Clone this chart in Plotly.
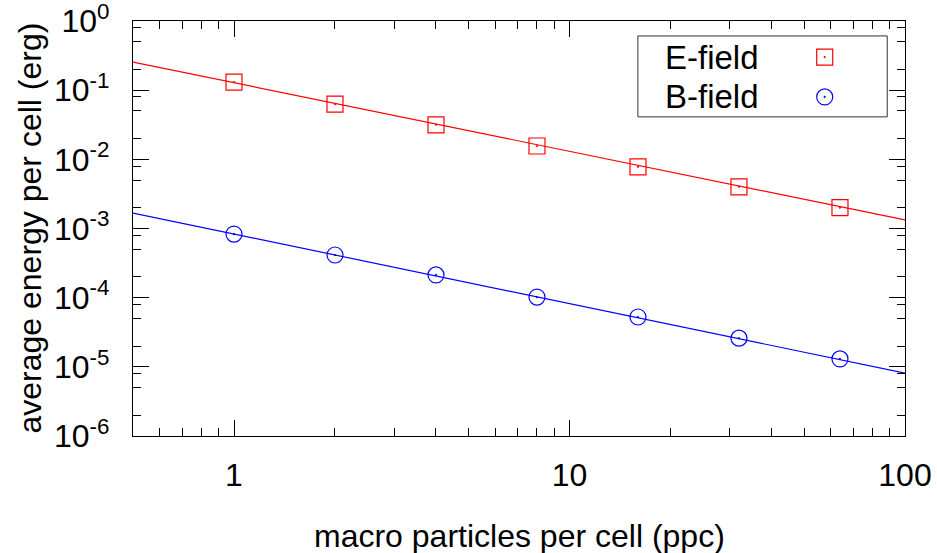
import plotly.graph_objects as go

# ---- data ----
ppc = [1, 2, 4, 8, 16, 32, 64]
e_field = [0.131, 0.063, 0.0315, 0.0156, 0.0078, 0.0040, 0.0020]
b_field = [8.3e-4, 4.14e-4, 2.13e-4, 1.02e-4, 5.25e-5, 2.6e-5, 1.3e-5]

fit_x = [0.5, 100]
e_fit = [0.255, 0.00133]
b_fit = [1.67e-3, 8.1e-6]

x_tickvals = [1, 10, 100]
x_ticktext = ["1", "10", "100"]
y_exps = [-6, -5, -4, -3, -2, -1, 0]
x_minor = [0.6, 0.7, 0.8, 0.9] + [m * d for d in (1, 10) for m in range(2, 10)]
y_minor = [m * 10.0 ** e for e in range(-6, 0) for m in (2, 5, 8)]

FONT = "Liberation Sans, Arial, Helvetica, sans-serif"
FS = 32
RED = "#ff0000"
BLUE = "#0000ff"

fig = go.Figure()

fig.add_trace(go.Scatter(x=fit_x, y=e_fit, mode="lines",
                         line=dict(color=RED, width=1.2), showlegend=False))
fig.add_trace(go.Scatter(x=fit_x, y=b_fit, mode="lines",
                         line=dict(color=BLUE, width=1.2), showlegend=False))
fig.add_trace(go.Scatter(x=ppc, y=e_field, mode="markers",
                         marker=dict(symbol="square-open-dot", size=16, color=RED,
                                     line=dict(color=RED, width=1.2)),
                         showlegend=False))
fig.add_trace(go.Scatter(x=ppc, y=b_field, mode="markers",
                         marker=dict(symbol="circle-open-dot", size=16, color=BLUE,
                                     line=dict(color=BLUE, width=1.2)),
                         showlegend=False))

# manual gnuplot-style legend (symbol to the right of the text)
legend_labels = ["E-field", "B-field"]
legend_y = [0.913, 0.817]
legend_sym = ["square-open-dot", "circle-open-dot"]
legend_col = [RED, BLUE]
for lab, ly, sym, col in zip(legend_labels, legend_y, legend_sym, legend_col):
    fig.add_trace(go.Scatter(x=[0.896], y=[ly], xaxis="x2", yaxis="y2", mode="markers",
                             marker=dict(symbol=sym, size=16, color=col,
                                         line=dict(color=col, width=1.2)),
                             showlegend=False, cliponaxis=False))
    fig.add_annotation(xref="paper", yref="paper", x=0.6865, y=ly, text=lab,
                       showarrow=False, xanchor="left", yanchor="middle",
                       font=dict(family=FONT, size=33, color="black"))
fig.add_shape(type="rect", xref="paper", yref="paper", x0=0.654, x1=0.977,
              y0=0.769, y1=0.964, line=dict(color="#333333", width=1),
              fillcolor="white", layer="below")

axis_common = dict(
    showline=True, linecolor="black", linewidth=1.2, mirror="ticks",
    ticks="inside", ticklen=16, tickwidth=1, tickcolor="black",
    showgrid=False, zeroline=False, automargin=False,
    ticklabeloverflow="allow",
    tickfont=dict(family=FONT, size=FS, color="black"),
)

fig.update_layout(
    width=937, height=553,
    margin=dict(l=133, r=32, t=21, b=117, autoexpand=False),
    paper_bgcolor="white", plot_bgcolor="white",
    font=dict(family=FONT, size=FS, color="black"),
    xaxis=dict(type="log", range=[-0.30103, 2],
               tickmode="array", tickvals=x_tickvals, ticktext=x_ticktext,
               ticklabelstandoff=10,
               minor=dict(tickmode="array", tickvals=x_minor, ticks="inside",
                          ticklen=8, tickwidth=1, tickcolor="black"),
               **axis_common),
    yaxis=dict(type="log", range=[-6, 0],
               tickmode="array", tickvals=[10.0 ** e for e in y_exps],
               ticktext=["10<sup>%d</sup>" % e for e in y_exps],
               ticklabelstandoff=16,
               minor=dict(tickmode="array", tickvals=y_minor, ticks="inside",
                          ticklen=8, tickwidth=1, tickcolor="black"),
               **axis_common),
    xaxis2=dict(overlaying="x", range=[0, 1], visible=False, automargin=False),
    yaxis2=dict(overlaying="y", range=[0, 1], visible=False, automargin=False),
)

fig.add_annotation(xref="paper", yref="paper", x=0.5, y=-0.25, yshift=4,
                   text="macro particles per cell (ppc)", showarrow=False,
                   xanchor="center", yanchor="middle", borderpad=0,
                   font=dict(family=FONT, size=FS, color="black"))
fig.add_annotation(xref="paper", yref="paper", x=0, xshift=-104, y=0.5,
                   text="average energy per cell (erg)", showarrow=False,
                   textangle=-90, xanchor="center", yanchor="middle",
                   font=dict(family=FONT, size=FS, color="black"))

fig.write_html("out.html")
